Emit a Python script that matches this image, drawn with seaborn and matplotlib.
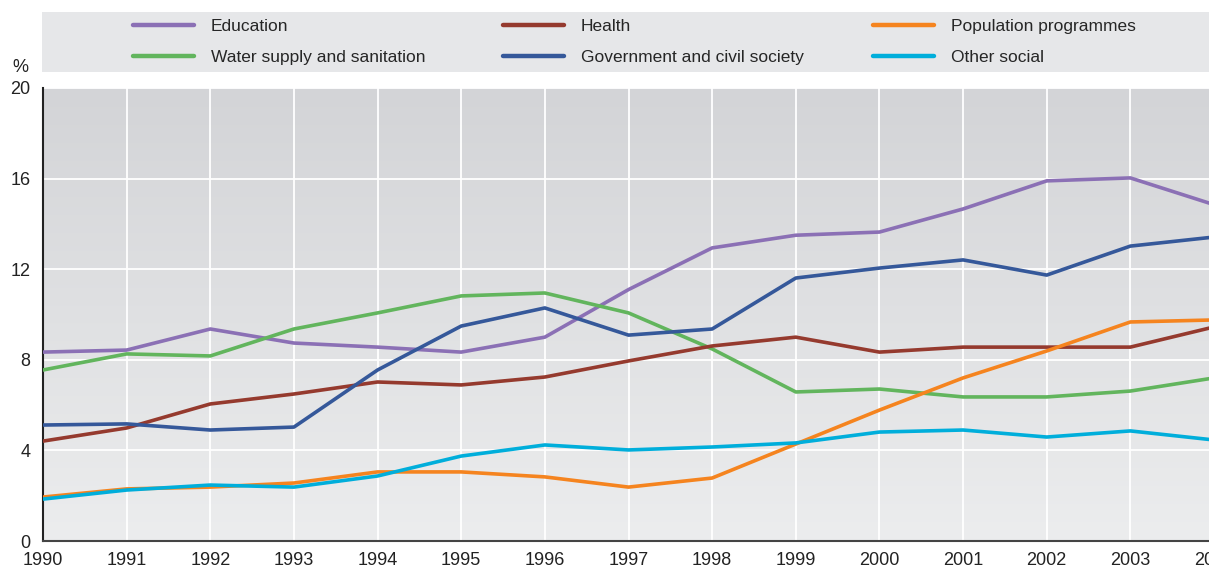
import matplotlib
matplotlib.use("Agg")
import matplotlib.pyplot as plt
import numpy as np
import pandas as pd
import seaborn as sns
from matplotlib.patches import Rectangle

sns.set_theme(style="white")
plt.rcParams["font.family"] = ["Liberation Sans", "DejaVu Sans"]

years = list(range(1990, 2005))
education = [8.34, 8.43, 9.36, 8.74, 8.56, 8.34, 9.0, 11.1, 12.94, 13.5, 13.64, 14.66, 15.9, 16.03, 14.85]
water = [7.55, 8.26, 8.17, 9.36, 10.07, 10.82, 10.95, 10.07, 8.48, 6.58, 6.71, 6.36, 6.36, 6.62, 7.2]
health = [4.41, 4.99, 6.05, 6.49, 7.02, 6.89, 7.24, 7.95, 8.61, 9.0, 8.34, 8.56, 8.56, 8.56, 9.45]
government = [5.12, 5.17, 4.9, 5.03, 7.55, 9.49, 10.29, 9.09, 9.36, 11.61, 12.05, 12.41, 11.74, 13.02, 13.42]
population = [1.94, 2.3, 2.38, 2.56, 3.05, 3.05, 2.83, 2.38, 2.78, 4.28, 5.78, 7.2, 8.39, 9.67, 9.76]
other_social = [1.85, 2.25, 2.47, 2.38, 2.87, 3.75, 4.24, 4.02, 4.15, 4.33, 4.81, 4.9, 4.59, 4.86, 4.46]

series = {
    "Education": education,
    "Water supply and sanitation": water,
    "Health": health,
    "Government and civil society": government,
    "Population programmes": population,
    "Other social": other_social,
}
palette = {
    "Education": "#8b70b5",
    "Water supply and sanitation": "#62b55d",
    "Health": "#953a2e",
    "Government and civil society": "#35589a",
    "Population programmes": "#f5841f",
    "Other social": "#00aedb",
}

df = pd.DataFrame(series, index=years).reset_index(names="year")
long = df.melt(id_vars="year", var_name="sector", value_name="share")

fig = plt.figure(figsize=(12.09, 5.72), dpi=100)
ax = fig.add_axes([43 / 1209, 1 - 541 / 572, (1214 - 43) / 1209, (541 - 88) / 572])

# soft vertical gradient behind the plot
grad = np.linspace(0, 1, 256).reshape(-1, 1)
ax.imshow(grad, extent=[1990, 2004, 0, 20], aspect="auto", origin="upper",
          cmap=matplotlib.colors.LinearSegmentedColormap.from_list("bg", ["#d3d4d7", "#ecedee"]), zorder=0)

sns.lineplot(data=long, x="year", y="share", hue="sector", hue_order=list(series), palette=palette,
             linewidth=2.6, ax=ax, zorder=3)

ax.set_xlim(1990, 2004)
ax.set_ylim(0, 20)
ax.set_xticks(years)
ax.set_yticks([0, 4, 8, 12, 16, 20])
ax.grid(True, color="white", lw=1.3, zorder=1)
ax.set_axisbelow(True)
for s in ["top", "right"]:
    ax.spines[s].set_visible(False)
ax.spines["left"].set_color("#222222")
ax.spines["bottom"].set_color("#444444")
ax.spines["left"].set_linewidth(1.5)
ax.spines["bottom"].set_linewidth(1.5)
ax.tick_params(axis="both", direction="in", length=5, width=1, colors="#444444", labelcolor="#222222", labelsize=13)
ax.tick_params(axis="x", pad=8)
ax.tick_params(axis="y", pad=9)
ax.set_xlabel("")
ax.set_ylabel("")

fig.text(20 / 1209, 1 - 68 / 572, "%", fontsize=13, color="#222222", ha="center", va="center")

# legend band, one small legend per column
fig.patches.append(Rectangle((42 / 1209, 1 - 72 / 572), (1209 - 42) / 1209, 60 / 572,
                             transform=fig.transFigure, facecolor="#e6e7e9", edgecolor="none", zorder=0))
handles, labels = ax.get_legend_handles_labels()
ax.get_legend().remove()
for i, x0 in enumerate([133, 503, 873]):
    leg = fig.legend(handles[2 * i:2 * i + 2], labels[2 * i:2 * i + 2], frameon=False, loc="upper left",
                     bbox_to_anchor=(x0 / 1209, 1 - 19 / 572), borderpad=0, borderaxespad=0,
                     handlelength=3.5, handletextpad=1.0, labelspacing=0.9, prop={"size": 12.5})
    for h in leg.legend_handles:
        h.set_linewidth(3.2)

fig.savefig("out.png", dpi=100)
